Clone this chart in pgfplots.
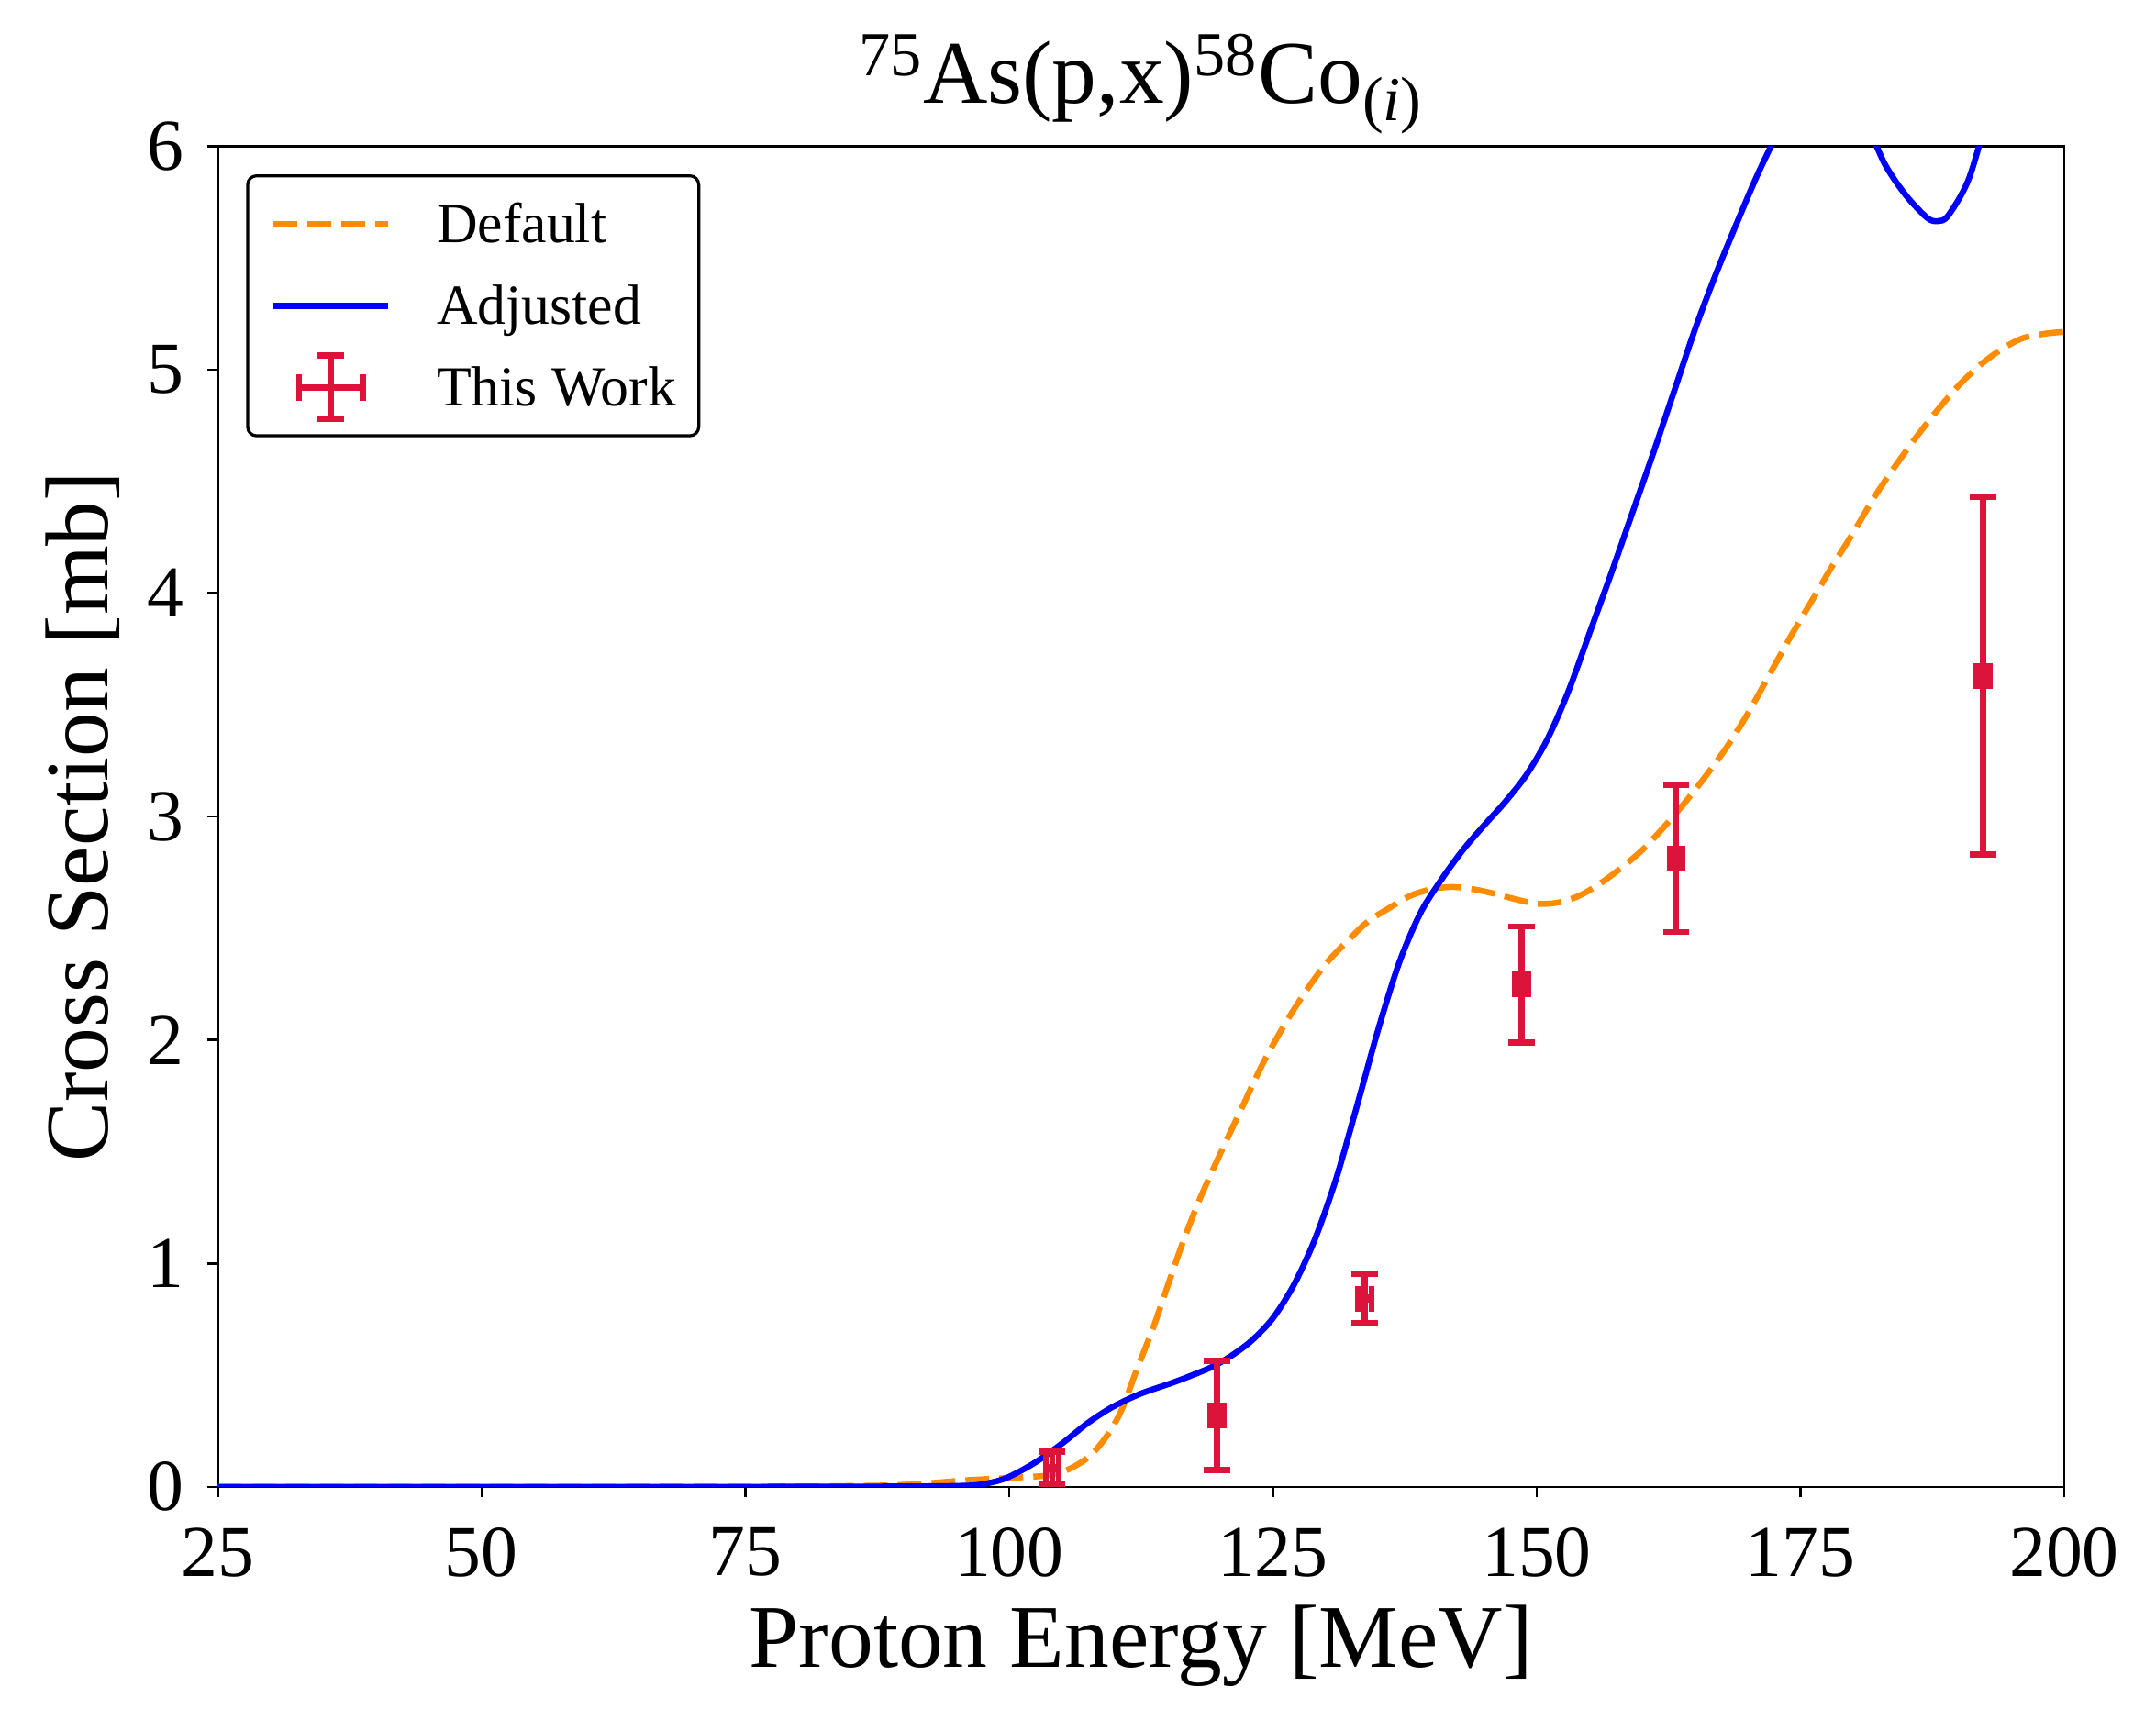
\documentclass[border=0pt]{standalone}
\usepackage{fontspec}
\setmainfont{Liberation Serif}
\usepackage{pgfplots}
\pgfplotsset{compat=1.18}
\definecolor{dorange}{HTML}{FF8C00}
\definecolor{crim}{HTML}{DC143C}

\pgfplotsset{
  deflegend/.style={legend image code/.code={\draw[dorange, line width=2pt, dash pattern=on 8pt off 3.4pt] (0pt,0pt) -- (38.6pt,0pt);}},
  adjlegend/.style={legend image code/.code={\draw[blue, line width=2pt] (0pt,0pt) -- (38.6pt,0pt);}},
  worklegend/.style={legend image code/.code={
    \draw[crim, line width=2pt, overlay]
      (8.6pt,0pt) -- (30.0pt,0pt)
      (19.3pt,-10.7pt) -- (19.3pt,10.7pt)
      (8.6pt,-4.35pt) -- (8.6pt,4.35pt)
      (30.0pt,-4.35pt) -- (30.0pt,4.35pt)
      (14.95pt,-10.7pt) -- (23.65pt,-10.7pt)
      (14.95pt,10.7pt) -- (23.65pt,10.7pt);
    \path[draw=none, fill=none] (0pt,-1pt) rectangle (38.6pt,1pt);
  }},
}

\pgfplotstableread{
E s
25 0
50 0
70 0.001
80 0.002
88 0.006
92 0.015
96 0.03
100 0.04
102 0.045
103.7 0.052
105.7 0.08
107.7 0.14
109.4 0.237
110.7 0.348
112 0.512
113.7 0.718
115 0.896
116.4 1.085
118 1.28
120 1.49
122 1.69
124 1.89
126 2.06
128 2.21
130 2.34
132 2.44
134 2.53
136 2.59
138 2.645
140 2.675
142 2.685
144 2.675
146 2.655
148 2.63
150 2.61
152 2.615
154 2.645
156 2.70
158 2.77
160 2.85
162 2.95
164 3.06
166 3.18
168 3.31
170 3.46
172 3.63
174 3.80
176 3.96
178 4.12
180 4.27
182 4.43
184 4.57
186 4.70
188 4.82
190 4.93
192 5.02
194 5.09
196 5.14
198 5.16
200 5.17
}\defaulttab

\pgfplotstableread{
E s
25 0
50 0
75 0.0005
90 0.002
95.7 0.005
97.5 0.012
99.7 0.039
102.4 0.107
105.1 0.197
107.4 0.284
109.7 0.355
112.4 0.416
115.7 0.47
119 0.532
121 0.585
123 0.655
125 0.755
127 0.905
129 1.11
131 1.38
133 1.71
135 2.05
137 2.35
139 2.57
141 2.72
143 2.85
145 2.96
147 3.065
149 3.185
151 3.345
153 3.56
155 3.82
157 4.08
159 4.35
161 4.62
163 4.90
165 5.18
167 5.43
169 5.66
171 5.88
173 6.07
175 6.20
177 6.28
179 6.27
181 6.13
183 5.92
185 5.78
187 5.68
188 5.665
189 5.69
191 5.86
193 6.20
195 6.65
197 7.10
200 7.80
}\adjustedtab

\pgfplotstableread{
E s eE es
104.1 0.085 0.6 0.073
119.7 0.32 0.6 0.245
133.7 0.842 0.65 0.11
148.56 2.249 0.6 0.26
163.2 2.813 0.6 0.33
192.3 3.63 0.6 0.80
}\worktab

\begin{document}
\begin{tikzpicture}
\useasboundingbox (-73.0pt,-78.15pt) rectangle (649.97pt,498.67pt);
\begin{axis}[
  scale only axis,
  width=619.2pt, height=449.6pt,
  xmin=25, xmax=200, ymin=0, ymax=6,
  xtick={25,50,75,100,125,150,175,200},
  ytick={0,1,2,3,4,5,6},
  xtick pos=lower, ytick pos=left,
  tick align=outside,
  major tick length=3.5pt,
  tick style={line width=0.8pt, black},
  axis line style={line width=0.8pt, black},
  /pgf/number format/assume math mode=true,
  xticklabel style={font=\fontsize{24.5}{29}\selectfont, inner sep=0pt, anchor=north, yshift=-10pt},
  yticklabel style={font=\fontsize{24.5}{29}\selectfont, inner sep=0pt, anchor=east, xshift=-7.6pt},
  xlabel={Proton Energy [MeV]},
  ylabel={Cross Section [mb]},
  xlabel style={font=\fontsize{30}{36}\selectfont, at={(axis description cs:0.5,0)}, anchor=base, yshift=-60.5pt, inner sep=0pt},
  ylabel style={font=\fontsize{30}{36}\selectfont, at={(axis description cs:-0.0596,0.5)}, anchor=base, inner sep=0pt},
  title={\textsuperscript{75}As(p,x)\textsuperscript{58}Co\textsubscript{(\textit{i})}},
  title style={font=\fontsize{30}{36}\selectfont, at={(axis description cs:0.5,1)}, anchor=base, yshift=8.55pt, inner sep=0pt},
  legend cell align=left,
  legend style={
    at={(axis description cs:0.01541,0.97909)}, anchor=north west,
    draw=black, line width=1pt, rounded corners=3pt, fill=white,
    font=\fontsize{19}{23}\selectfont,
    inner xsep=7.6pt, inner ysep=4.9pt,
    row sep=4.8pt, column sep=15.2pt,
    nodes={inner sep=0pt, text height=17.6pt, text depth=5pt},
  },
]
\addplot[dorange, line width=2pt, dash pattern=on 8pt off 3.4pt, smooth, deflegend]
  table[x=E, y=s] {\defaulttab};
\addlegendentry{Default}
\addplot[blue, line width=2pt, smooth, adjlegend]
  table[x=E, y=s] {\adjustedtab};
\addlegendentry{Adjusted}
\addplot[crim, only marks, mark=square*, mark size=1.2pt, mark options={crim}, worklegend,
  error bars/.cd,
    x dir=both, x explicit,
    y dir=both, y explicit,
    error bar style={line width=2pt, crim},
    error mark options={rotate=90, line width=2pt, mark size=4.35pt, crim}]
  table[x=E, y=s, x error=eE, y error=es] {\worktab};
\addlegendentry{This Work}
\end{axis}
\end{tikzpicture}
\end{document}
